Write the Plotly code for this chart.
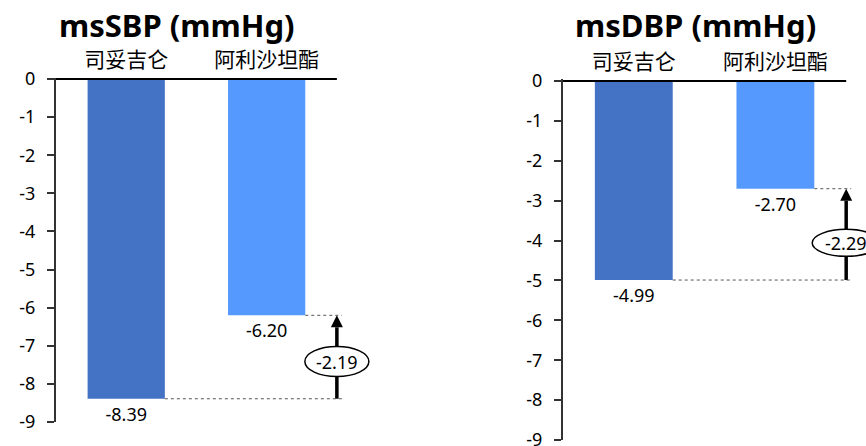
import plotly.graph_objects as go

W, H = 866, 446

# ---------------- data ----------------
categories = ["司妥吉仑", "阿利沙坦酯"]
panel_titles = ["msSBP (mmHg)", "msDBP (mmHg)"]
sbp_values = [-8.39, -6.20]
dbp_values = [-4.99, -2.70]
y_tick_values = [0, -1, -2, -3, -4, -5, -6, -7, -8, -9]
y_tick_labels = ["0", "-1", "-2", "-3", "-4", "-5", "-6", "-7", "-8", "-9"]

panels = [sbp_values, dbp_values]

# ---------------- style / layout ----------------
bar_colors = ["#4472C4", "#5599FF"]
bar_width = 0.55
arrow_x = 1.5
x_dom_px = [(56, 379), (563, 866)]
y_dom_px = [(77.5, 422), (79.4, 440)]
x_ranges = [[-0.5, 1.8], [-0.5, 1.64]]
y_range = [-9, 0.04]
title_x_px = [177, 695]
title_y_px = 25
ellipse_dy = [(-19.5, 10.5), (-22, 5)]
ellipse_dx = [(-32, 32), (-34, 34)]

LATIN = "Noto Sans"
CJK = "Noto Sans CJK SC"


def px_x(a, b):
    return [a / W, b / W]


def px_y(top, bottom):
    return [1 - bottom / H, 1 - top / H]


fig = go.Figure()
shapes = []
annotations = []
layout_axes = {}

for i, vals in enumerate(panels):
    sfx = "" if i == 0 else str(i + 1)
    xa, ya = "x" + sfx, "y" + sfx
    xs = list(range(len(categories)))

    fig.add_trace(go.Bar(
        x=xs, y=vals, width=bar_width,
        marker=dict(color=bar_colors, line=dict(width=0)),
        texttemplate="%{y:.2f}", textposition="outside",
        textfont=dict(family=LATIN, size=18, color="black"),
        cliponaxis=False, xaxis=xa, yaxis=ya, showlegend=False,
        hoverinfo="skip",
    ))

    lo, hi = min(vals), max(vals)
    mid = (lo + hi) / 2
    diff = vals[0] - vals[1]

    # arrow from lower value up to higher value
    fig.add_trace(go.Scatter(
        x=[arrow_x, arrow_x], y=[lo, hi], mode="lines+markers",
        line=dict(color="black", width=3.5),
        marker=dict(symbol=["circle", "arrow-up"], size=[0, 12], color="black",
                    opacity=1, line=dict(width=0)),
        cliponaxis=False, xaxis=xa, yaxis=ya, showlegend=False, hoverinfo="skip",
    ))

    # zero line across the top
    shapes.append(dict(type="line", xref=xa, yref=ya, x0=-0.5, x1=arrow_x,
                       y0=0, y1=0, line=dict(color="black", width=2), layer="above"))
    # dotted guide lines from bar ends to arrow
    for j, v in enumerate(vals):
        shapes.append(dict(type="line", xref=xa, yref=ya,
                           x0=xs[j] + bar_width / 2, x1=arrow_x + 0.035,
                           y0=v, y1=v, line=dict(color="#555555", width=1, dash="dot"),
                           layer="above"))
    # ellipse label
    dy0, dy1 = ellipse_dy[i]
    dx0, dx1 = ellipse_dx[i]
    shapes.append(dict(type="circle", xref=xa, yref=ya,
                       xsizemode="pixel", ysizemode="pixel",
                       xanchor=arrow_x, yanchor=mid,
                       x0=dx0, x1=dx1, y0=dy0, y1=dy1,
                       fillcolor="white", line=dict(color="black", width=1.5),
                       layer="above"))
    annotations.append(dict(xref=xa, yref=ya, x=arrow_x, y=mid,
                            yshift=(dy0 + dy1) / 2, text=f"{diff:.2f}",
                            showarrow=False,
                            font=dict(family=LATIN, size=18, color="black")))
    # panel title
    annotations.append(dict(xref="paper", yref="paper",
                            x=title_x_px[i] / W, y=1 - title_y_px / H,
                            xanchor="center", yanchor="middle",
                            text=f"<b>{panel_titles[i]}</b>", showarrow=False,
                            font=dict(family=LATIN, size=31, color="black")))

    layout_axes["xaxis" + sfx] = dict(
        domain=px_x(*x_dom_px[i]), range=x_ranges[i], anchor=ya,
        side="top", tickvals=xs, ticktext=categories,
        tickfont=dict(family=CJK, size=21, color="black"),
        showline=False, ticks="", showgrid=False, zeroline=False,
        fixedrange=True, automargin=False, ticklabelstandoff=5,
    )
    layout_axes["yaxis" + sfx] = dict(
        domain=px_y(*y_dom_px[i]), range=y_range, anchor=xa,
        tickvals=y_tick_values, ticktext=y_tick_labels,
        tickfont=dict(family=LATIN, size=18, color="black"),
        showline=True, linecolor="#333333", linewidth=2,
        ticks="outside", ticklen=7, tickwidth=1.5, tickcolor="#333333",
        showgrid=False, zeroline=False, fixedrange=True, automargin=False,
        ticklabelstandoff=8, ticklabeloverflow="allow",
    )

fig.update_layout(
    width=W, height=H,
    margin=dict(l=0, r=0, t=0, b=0, pad=0, autoexpand=False),
    paper_bgcolor="white", plot_bgcolor="white",
    shapes=shapes, annotations=annotations, showlegend=False,
    **layout_axes,
)

fig.write_html("out.html", config={"displayModeBar": False},
               post_script="document.body.style.margin='0';")
